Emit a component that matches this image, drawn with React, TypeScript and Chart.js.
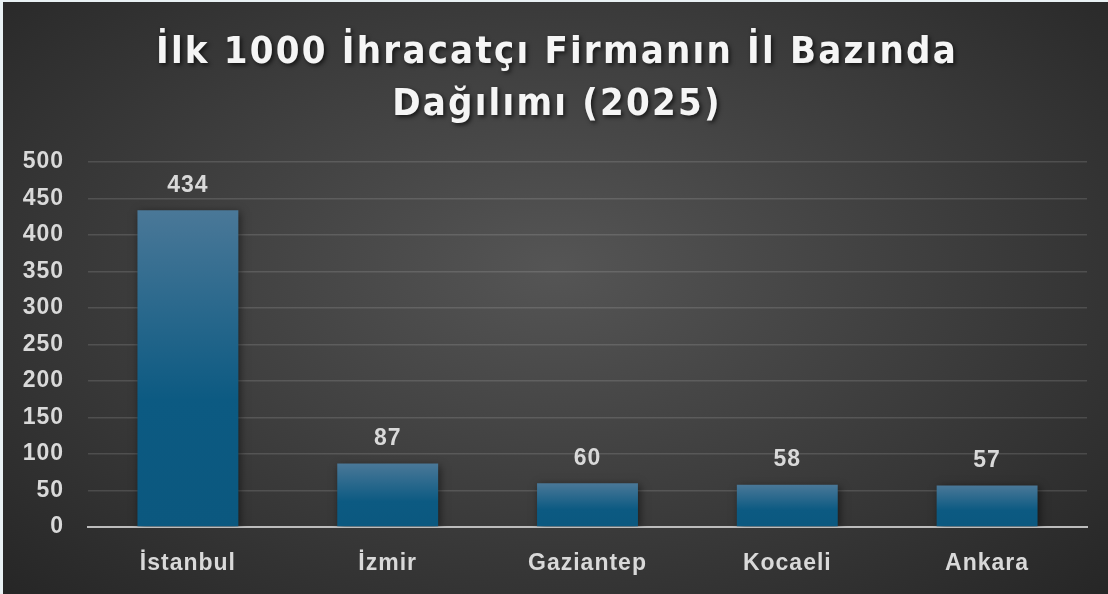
import React, { useEffect, useRef } from "react";
import { Chart, registerables } from "chart.js";

Chart.register(...registerables);

const categories = ["İstanbul", "İzmir", "Gaziantep", "Kocaeli", "Ankara"];
const firmCounts = [434, 87, 60, 58, 57];
const titleLines = ["İlk 1000 İhracatçı Firmanın İl Bazında", "Dağılımı (2025)"];
const yMin = 0;
const yMax = 500;
const yStep = 50;

const TEXT = "#d9d9d9";
const FONT_FAMILY = "'Liberation Sans', Arial, sans-serif";
const TICK_FONT = { family: FONT_FAMILY, size: 23, weight: "bold" as const };

export default function App() {
  const ref = useRef<HTMLCanvasElement | null>(null);

  useEffect(() => {
    document.body.style.margin = "0";
    document.body.style.background = "#e9f1f4";
    const canvas = ref.current;
    if (!canvas) return;

    const styler = {
      id: "styler",
      beforeDraw(chart: any) {
        const ctx = chart.ctx;
        const tb = chart.titleBlock;
        if (tb && !tb._styled) {
          const orig = tb.draw.bind(tb);
          tb.draw = (...args: any[]) => {
            const c = chart.ctx;
            c.save();
            // centre the title over the whole panel rather than the padded box
            c.translate(12, 0);
            (c as any).letterSpacing = "2.2px";
            c.shadowColor = "rgba(0,0,0,0.65)";
            c.shadowBlur = 4;
            c.shadowOffsetX = 2;
            c.shadowOffsetY = 2;
            orig(...args);
            c.restore();
          };
          tb._styled = true;
        }
        ctx.save();
        (ctx as any).letterSpacing = "1px";
      },
      beforeDatasetsDraw(chart: any) {
        const ctx = chart.ctx;
        ctx.restore();
        ctx.save();
        ctx.shadowColor = "rgba(0,0,0,0.5)";
        ctx.shadowBlur = 8;
        ctx.shadowOffsetX = 2;
        ctx.shadowOffsetY = 2;
      },
      afterDatasetsDraw(chart: any) {
        const ctx = chart.ctx;
        ctx.restore();
        const meta = chart.getDatasetMeta(0);
        ctx.save();
        (ctx as any).letterSpacing = "1px";
        ctx.fillStyle = TEXT;
        ctx.font = `bold 23px ${FONT_FAMILY}`;
        ctx.textAlign = "center";
        ctx.textBaseline = "middle";
        meta.data.forEach((el: any, i: number) => {
          ctx.fillText(String(chart.data.datasets[0].data[i]), el.x, el.y - 25);
        });
        ctx.restore();
      },
    };

    const chart = new Chart(canvas, {
      type: "bar",
      data: {
        labels: categories,
        datasets: [
          {
            data: firmCounts,
            barPercentage: 0.505,
            categoryPercentage: 1,
            backgroundColor: (c: any) => {
              const ch = c.chart;
              if (!ch.chartArea || c.raw === undefined) return "#1b5f86";
              const ys = ch.scales.y;
              const top = ys.getPixelForValue(c.raw);
              const bottom = ys.getPixelForValue(0);
              const g = ch.ctx.createLinearGradient(0, top, 0, bottom);
              g.addColorStop(0, "#4a7898");
              g.addColorStop(0.6, "#0c5a82");
              g.addColorStop(1, "#0b587f");
              return g;
            },
            borderWidth: 0,
          },
        ],
      },
      options: {
        animation: false,
        responsive: true,
        maintainAspectRatio: false,
        layout: { padding: { top: 8, left: 0, right: 21, bottom: 0 } },
        plugins: {
          legend: { display: false },
          tooltip: { enabled: false },
          title: {
            display: true,
            text: titleLines,
            color: "#f5f5f5",
            font: { family: "'DejaVu Sans Condensed', 'DejaVu Sans', sans-serif", size: 38, weight: "bold", lineHeight: 1.37 },
            padding: { top: 17, bottom: 31 },
            position: "top",
            align: "center",
            fullSize: true,
          } as any,
        },
        scales: {
          x: {
            grid: { display: false, drawTicks: false },
            border: { display: true, color: "#bcbcbc", width: 2 },
            ticks: { color: TEXT, font: TICK_FONT, padding: 23, maxRotation: 0 },
            afterFit: (s: any) => {
              s.height = 67;
            },
          },
          y: {
            min: yMin,
            max: yMax,
            grid: { color: "rgba(255,255,255,0.13)", lineWidth: 1.5, drawTicks: false },
            border: { display: false },
            ticks: { stepSize: yStep, color: TEXT, font: TICK_FONT, padding: 24 },
            afterFit: (s: any) => {
              s.width = 85;
            },
          },
        },
      },
      plugins: [styler],
    });
    return () => chart.destroy();
  }, []);

  return (
    <div
      style={{
        position: "fixed",
        left: 3,
        top: 2,
        width: 1105,
        height: 592,
        background: "radial-gradient(ellipse farthest-corner at 50% 45%, #555555 0%, #262626 100%)",
      }}
    >
      <canvas ref={ref} />
    </div>
  );
}
